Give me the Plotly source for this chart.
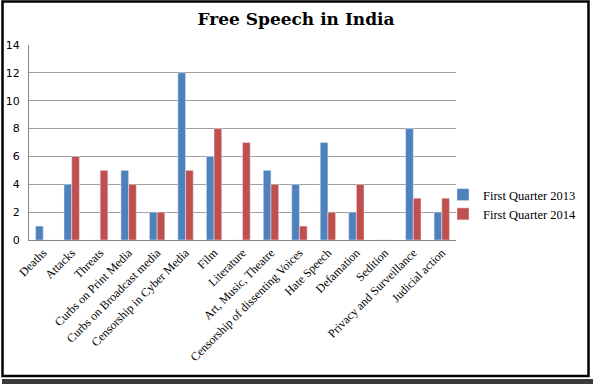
import plotly.graph_objects as go

categories = ["Deaths", "Attacks", "Threats", "Curbs on Print Media", "Curbs on Broadcast media",
              "Censorship in Cyber Media", "Film", "Literature", "Art, Music, Theatre",
              "Censorship of dissenting Voices", "Hate Speech", "Defamation", "Sedition",
              "Privacy and Surveillance", "Judicial action"]
q2013 = [1, 4, 0, 5, 2, 12, 6, 0, 5, 4, 7, 2, 0, 8, 2]
q2014 = [0, 6, 5, 4, 2, 5, 8, 7, 4, 1, 2, 4, 0, 3, 3]
series_names = ["First Quarter 2013", "First Quarter 2014"]
y_ticks = [0, 2, 4, 6, 8, 10, 12, 14]

W, H = 593, 384
L, R, T, B = 29, 456, 45, 240

fig = go.Figure()
fig.add_trace(go.Bar(x=categories, y=q2013, name=series_names[0], marker_color="#4F81BD"))
fig.add_trace(go.Bar(x=categories, y=q2014, name=series_names[1], marker_color="#C0504D"))

pw, ph = R - L, B - T
def px_to_paper(x, y):
    return (x - L) / pw, (B - y) / ph

x0, y0 = px_to_paper(2.5, 1.5)
x1, y1 = px_to_paper(588.5, 376)
bx0, by0 = px_to_paper(2, 379)
bx1, by1 = px_to_paper(593, 384)

fig.update_layout(
    width=W, height=H,
    margin=dict(l=L, r=W - R, t=T, b=H - B, autoexpand=False),
    paper_bgcolor="white", plot_bgcolor="white",
    barmode="group", bargap=0.46, bargroupgap=0,
    title=dict(text="<b>Free Speech in India</b>", x=(296) / W, xanchor="center",
               y=1 - 19 / H, yanchor="middle",
               font=dict(family="DejaVu Serif", size=17, color="black")),
    legend=dict(x=(443 - L) / pw, y=(B - 180) / ph, xanchor="left", yanchor="top",
                font=dict(family="Liberation Serif", size=12.5, color="black"),
                itemwidth=30, tracegroupgap=2, bgcolor="rgba(0,0,0,0)"),
    xaxis=dict(tickangle=-45, tickfont=dict(family="Liberation Serif", size=12, color="black"),
               showline=True, linecolor="#868686", linewidth=1, showgrid=False,
               ticks="", automargin=False),
    yaxis=dict(range=[0, 14], tickvals=y_ticks, tickfont=dict(family="DejaVu Sans", size=11, color="black"),
               showline=True, linecolor="#868686", linewidth=1,
               showgrid=True, gridcolor="#A0A0A0", gridwidth=1, zeroline=False,
               ticks="outside", ticklen=0, ticklabelstandoff=6, automargin=False),
    shapes=[
        dict(type="rect", xref="paper", yref="paper", x0=x0, y0=y0, x1=x1, y1=y1,
             line=dict(color="black", width=2.5), fillcolor="rgba(0,0,0,0)", layer="above"),
        dict(type="rect", xref="paper", yref="paper", x0=bx0, y0=by0, x1=bx1, y1=by1,
             line=dict(width=0), fillcolor="#3a3a3a", layer="above"),
    ],
)
fig.write_html("out.html", config={"displayModeBar": False},
               post_script="document.body.style.margin='0';document.body.style.overflow='hidden';")
